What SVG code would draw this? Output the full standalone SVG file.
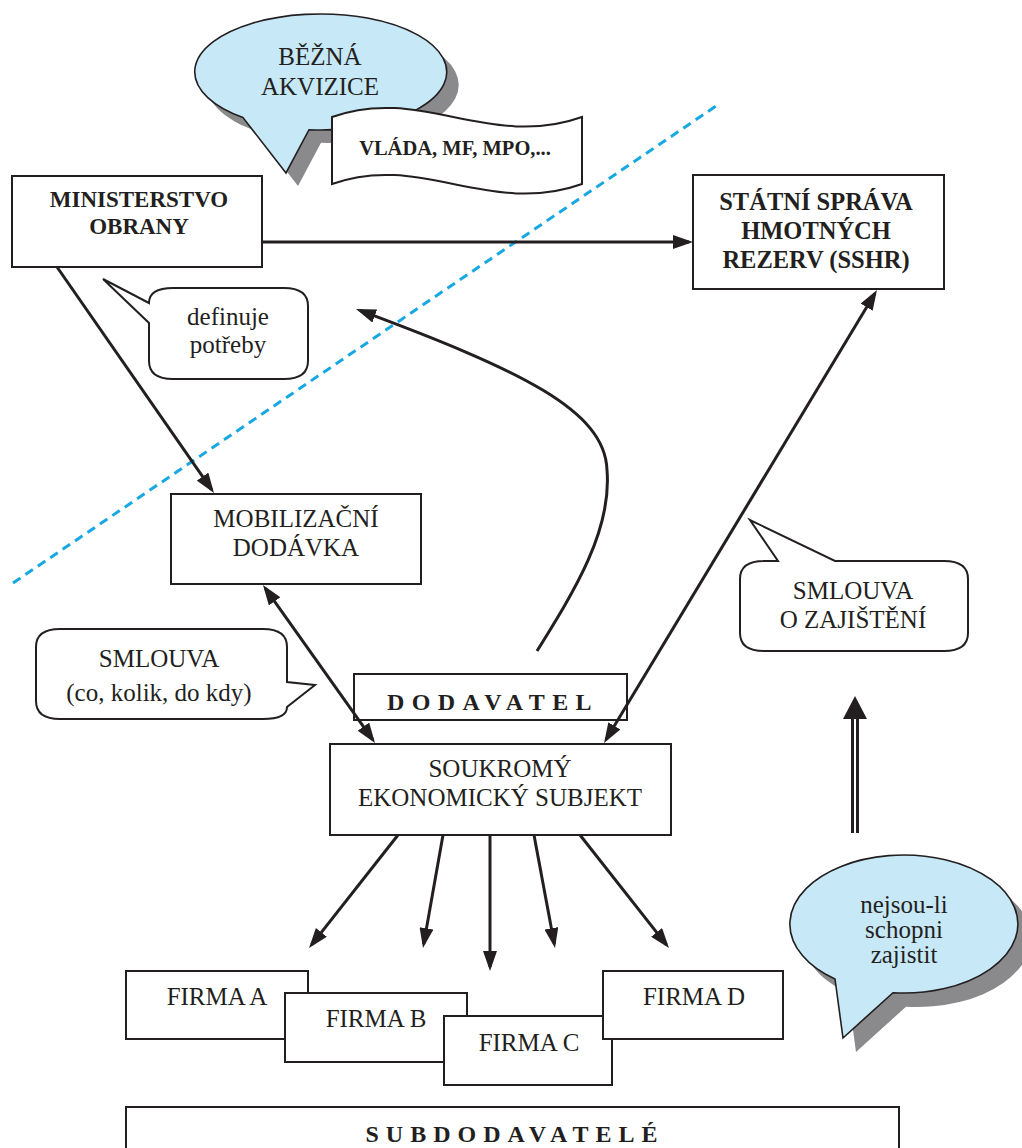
<svg xmlns="http://www.w3.org/2000/svg" width="1022" height="1148" viewBox="0 0 1022 1148">
<defs>
<style>
.box{fill:#fff;stroke:#231f20;stroke-width:2}
.t{font-family:"Liberation Serif","Times New Roman",serif;font-size:25px;fill:#231f20;text-anchor:middle}
.b{font-weight:bold;font-size:23px}
.ln{fill:none;stroke:#231f20;stroke-width:3}
.bub{fill:#c6e8f7;stroke:#231f20;stroke-width:1.6}
.sh{fill:#8a8a8c}
</style>
<marker id="ah" markerUnits="userSpaceOnUse" markerWidth="20" markerHeight="14" refX="16" refY="7" orient="auto-start-reverse"><path d="M0,0 L20,7 L0,14 Z" fill="#231f20"/></marker>
</defs>
<rect width="1022" height="1148" fill="#fff"/>

<!-- dashed boundary -->
<line x1="13" y1="583" x2="719" y2="104" stroke="#17a8e3" stroke-width="3" stroke-dasharray="9,6"/>

<g id="bezna-akvizice">
<path class="sh" transform="translate(12,13)" d="M243,117.6 A126,58 0 1 1 309,129.7 L286,173 Z"/>
<path class="bub" d="M243,117.6 A126,58 0 1 1 309,129.7 L286,173 Z"/>
<text class="t" x="320" y="65">BĚŽNÁ</text>
<text class="t" x="320" y="95">AKVIZICE</text>
</g>

<g id="vlada">
<path class="box" d="M332,117 C420,85 490,150 582,117 L582,184 C490,217 420,152 332,184 Z"/>
<text class="t b" x="455" y="155" style="font-size:20.5px">VLÁDA, MF, MPO,...</text>
</g>

<g id="ministerstvo">
<rect class="box" x="12" y="176" width="250" height="91"/>
<text class="t b" x="139" y="207">MINISTERSTVO</text>
<text class="t b" x="139" y="234">OBRANY</text>
</g>

<g id="sshr">
<rect class="box" x="693" y="175" width="251" height="114"/>
<text class="t b" x="816" y="210" style="font-size:24.5px">STÁTNÍ SPRÁVA</text>
<text class="t b" x="816" y="239" style="font-size:24.5px">HMOTNÝCH</text>
<text class="t b" x="816" y="268" style="font-size:24.5px">REZERV (SSHR)</text>
</g>

<g id="definuje">
<path class="box" d="M173,288 H284 Q308,288 308,306 V361 Q308,379 284,379 H173 Q149,379 149,361 V323 L103,279 L149,303 Q149,288 173,288 Z"/>
<text class="t" x="228" y="325">definuje</text>
<text class="t" x="228" y="353">potřeby</text>
</g>

<g id="mobilizacni">
<rect class="box" x="171" y="494" width="250" height="90"/>
<text class="t" x="296" y="527">MOBILIZAČNÍ</text>
<text class="t" x="296" y="556">DODÁVKA</text>
</g>

<g id="smlouva1">
<path class="box" d="M60,629 H263 Q287,629 287,647 V682 L315,685 L287,707 Q287,719 263,719 H60 Q36,719 36,701 V647 Q36,629 60,629 Z"/>
<text class="t" x="159" y="667">SMLOUVA</text>
<text class="t" x="159" y="701">(co, kolik, do kdy)</text>
</g>

<g id="smlouva2">
<path class="box" d="M764,561 H778 L750,520 L835,561 H944 Q968,561 968,579 V633 Q968,651 944,651 H764 Q740,651 740,633 V579 Q740,561 764,561 Z"/>
<text class="t" x="853" y="599">SMLOUVA</text>
<text class="t" x="853" y="628">O ZAJIŠTĚNÍ</text>
</g>

<g id="dodavatel">
<rect class="box" x="354" y="674" width="273" height="46"/>
<text class="t b" x="493" y="710" letter-spacing="7.4" style="font-size:24px">DODAVATEL</text>
</g>

<g id="soukromy">
<rect class="box" x="330" y="744" width="341" height="91"/>
<text class="t" x="500" y="777">SOUKROMÝ</text>
<text class="t" x="500" y="806">EKONOMICKÝ SUBJEKT</text>
</g>

<g id="firma-a">
<rect class="box" x="126" y="971" width="182" height="68"/>
<text class="t" x="217" y="1005">FIRMA A</text>
</g>
<g id="firma-b">
<rect class="box" x="285" y="993" width="182" height="69"/>
<text class="t" x="376" y="1027">FIRMA B</text>
</g>
<g id="firma-c">
<rect class="box" x="444" y="1016" width="168" height="69"/>
<text class="t" x="529" y="1051">FIRMA C</text>
</g>
<g id="firma-d">
<rect class="box" x="603" y="971" width="180" height="68"/>
<text class="t" x="694" y="1005">FIRMA D</text>
</g>

<g id="nejsou-li">
<path class="sh" transform="translate(13,14)" d="M835,979 A114,69 0 1 1 893,992.7 L843,1038 Z"/>
<path class="bub" d="M835,979 A114,69 0 1 1 893,992.7 L843,1038 Z"/>
<text class="t" x="904" y="913">nejsou-li</text>
<text class="t" x="904" y="938">schopni</text>
<text class="t" x="904" y="963">zajistit</text>
</g>

<g id="subdodavatele">
<rect class="box" x="126" y="1107" width="773" height="60"/>
<text class="t b" x="515" y="1142" letter-spacing="7" style="font-size:24px">SUBDODAVATELÉ</text>
</g>

<g id="connectors">
<line class="ln" x1="262" y1="242" x2="689" y2="242" marker-end="url(#ah)"/>
<line class="ln" x1="57" y1="267" x2="211.7" y2="489.7" marker-end="url(#ah)"/>
<line class="ln" x1="265.3" y1="588.3" x2="372.7" y2="739.7" marker-start="url(#ah)" marker-end="url(#ah)"/>
<line class="ln" x1="606.1" y1="739.6" x2="874.9" y2="293.4" marker-start="url(#ah)" marker-end="url(#ah)"/>
<path class="ln" d="M537,651 C575,590 612,530 607,470 C605,410 520,370 359.8,310.4" marker-end="url(#ah)"/>
<line class="ln" x1="398" y1="835" x2="311.5" y2="944.9" marker-end="url(#ah)"/>
<line class="ln" x1="443" y1="835" x2="423.7" y2="944.1" marker-end="url(#ah)"/>
<line class="ln" x1="490" y1="835" x2="490" y2="967" marker-end="url(#ah)"/>
<line class="ln" x1="534" y1="835" x2="554.3" y2="944.1" marker-end="url(#ah)"/>
<line class="ln" x1="580" y1="835" x2="666.5" y2="944.9" marker-end="url(#ah)"/>
<line class="ln" x1="852.5" y1="833" x2="852.5" y2="718"/>
<line class="ln" x1="857.5" y1="833" x2="857.5" y2="718"/>
<path d="M843,719 L867,719 L855,696 Z" fill="#231f20"/>
</g>
</svg>
